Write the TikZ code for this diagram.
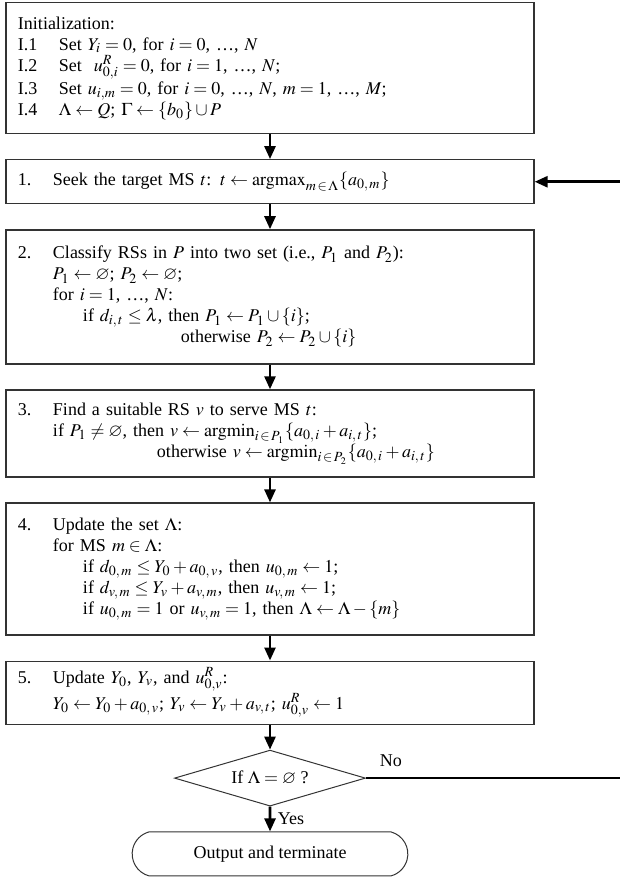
\documentclass[tikz,border=0pt]{standalone}
\usepackage{mathptmx}
\usepackage{amssymb}
\usepackage{fontspec}
\setmainfont{Liberation Serif}
\usetikzlibrary{positioning,shapes.geometric,shapes.misc,arrows.meta}

\newcommand{\initlab}[1]{\makebox[20.5pt][l]{#1}}
\newcommand{\steplab}[1]{\makebox[17.5pt][l]{#1}}
\newcommand{\indone}{\hspace*{17.5pt}}
\newcommand{\indtwo}{\hspace*{32.5pt}}

\begin{document}
\begin{tikzpicture}[
        x=0.5pt, y=-0.5pt,
        node distance=12.4pt,
        every node/.style={font=\fontsize{9}{10.5}\selectfont},
        stepbox/.style={draw=black!80, line width=0.65pt, text width=252pt, inner xsep=6pt, inner ysep=3pt, align=left},
        decision/.style={diamond, draw=black!80, line width=0.5pt, minimum width=95.5pt, minimum height=28pt, inner sep=0pt, aspect=3.4},
        terminal/.style={rounded rectangle, rounded rectangle arc length=150, draw=black!80, line width=0.5pt, minimum width=144.5pt, minimum height=22pt},
        flow/.style={line width=1.3pt, -{Triangle[width=5.5pt,length=6.5pt]}}
    ]
    \useasboundingbox (0,0) rectangle (620,879);
    \node[stepbox, anchor=north, minimum height=65.5pt] (init) at (270,2) {Initialization:\\
        \initlab{I.1}Set $Y_i = 0$, for $i = 0$, \dots, $N$\\
        \initlab{I.2}Set\ \ $u^R_{0,i} = 0$, for $i = 1$, \dots, $N$;\\
        \initlab{I.3}Set $u_{i,m} = 0$, for $i = 0$, \dots, $N$, $m = 1$, \dots, $M$;\\
        \initlab{I.4}$\Lambda \leftarrow Q$; $\Gamma \leftarrow \{b_0\} \cup P$};
    \node[stepbox, below=of init, minimum height=22pt] (step1) {\steplab{1.}Seek the target MS $t$: $t \leftarrow \mathrm{argmax}_{m\,\in\,\Lambda}\{a_{0,\,m}\}$};
    \node[stepbox, below=of step1, minimum height=67pt] (step2) {\steplab{2.}Classify RSs in $P$ into two set (i.e., $P_1$ and $P_2$):\\
        \indone$P_1 \leftarrow \varnothing$; $P_2 \leftarrow \varnothing$;\\
        \indone for $i = 1$, \dots, $N$:\\
        \indtwo if $d_{i,\,t} \le \lambda$, then $P_1 \leftarrow P_1 \cup \{i\}$;\\
        \hspace*{81.5pt}otherwise $P_2 \leftarrow P_2 \cup \{i\}$};
    \node[stepbox, below=of step2, minimum height=43.5pt] (step3) {\steplab{3.}Find a suitable RS $v$ to serve MS $t$:\\
        \indone if $P_1 \ne \varnothing$, then $v \leftarrow \mathrm{argmin}_{i\,\in\,P_1}\{a_{0,\,i} + a_{i,\,t}\}$;\\
        \hspace*{69.5pt}otherwise $v \leftarrow \mathrm{argmin}_{i\,\in\,P_2}\{a_{0,\,i} + a_{i,\,t}\}$};
    \node[stepbox, below=of step3, minimum height=66pt] (step4) {\steplab{4.}Update the set $\Lambda$:\\
        \indone for MS $m \in \Lambda$:\\
        \indtwo if $d_{0,\,m} \le Y_0 + a_{0,\,v}$, then $u_{0,\,m} \leftarrow 1$;\\
        \indtwo if $d_{v,\,m} \le Y_v + a_{v,\,m}$, then $u_{v,\,m} \leftarrow 1$;\\
        \indtwo if $u_{0,\,m} = 1$ or $u_{v,\,m} = 1$, then $\Lambda \leftarrow \Lambda - \{m\}$};
    \node[stepbox, below=of step4, minimum height=31.5pt] (step5) {\steplab{5.}Update $Y_0$, $Y_v$, and\ $u^R_{0,v}$:\\
        \indone$Y_0 \leftarrow Y_0 + a_{0,\,v}$; $Y_v \leftarrow Y_v + a_{v,\,t}$;\ $u^R_{0,v} \leftarrow 1$};
    \node[decision, below=of step5] (check) {If $\Lambda = \varnothing$ ?};
    \node[terminal, below=of check] (done) {Output and terminate};
    \coordinate (rim) at (620,0);
    \coordinate (loopin) at (step1.east -| rim);
    \coordinate (loopout) at (check.east -| rim);
    \draw[flow] (init) -- (step1);
    \draw[flow] (step1) -- (step2);
    \draw[flow] (step2) -- (step3);
    \draw[flow] (step3) -- (step4);
    \draw[flow] (step4) -- (step5);
    \draw[flow] (step5) -- (check);
    \draw[flow] (check) -- node[right] {Yes} (done);
    \draw[line width=1.3pt] (check.east) -- node[anchor=south west, pos=0, xshift=3pt, yshift=1.5pt] {No} (loopout);
    \draw[flow] (loopin) -- (step1.east);
\end{tikzpicture}
\end{document}
